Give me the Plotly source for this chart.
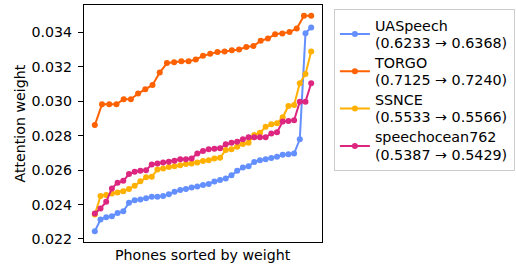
import numpy as np
import plotly.graph_objects as go

series_names = ["UASpeech", "TORGO", "SSNCE", "speechocean762"]
score_ranges = ["(0.6233 → 0.6368)", "(0.7125 → 0.7240)", "(0.5533 → 0.5566)", "(0.5387 → 0.5429)"]
colors = ["#648FFF", "#FE6100", "#FFB000", "#DC267F"]

uaspeech = [0.02245, 0.02313, 0.02326, 0.02332, 0.02351, 0.02361, 0.02410, 0.02425, 0.02430, 0.02437,
            0.02445, 0.02445, 0.02449, 0.02460, 0.02474, 0.02484, 0.02490, 0.02499, 0.02505, 0.02513,
            0.02520, 0.02534, 0.02542, 0.02552, 0.02571, 0.02596, 0.02616, 0.02623, 0.02647, 0.02658,
            0.02663, 0.02670, 0.02678, 0.02689, 0.02693, 0.02697, 0.02779, 0.03396, 0.03429]
torgo = [0.02862, 0.02983, 0.02983, 0.02983, 0.03012, 0.03012, 0.03045, 0.03070, 0.03095, 0.03167,
         0.03222, 0.03227, 0.03233, 0.03233, 0.03243, 0.03264, 0.03276, 0.03286, 0.03290, 0.03297,
         0.03301, 0.03315, 0.03321, 0.03352, 0.03365, 0.03390, 0.03394, 0.03402, 0.03423, 0.03497,
         0.03497]
ssnce = [0.02342, 0.02449, 0.02455, 0.02464, 0.02470, 0.02478, 0.02491, 0.02509, 0.02536, 0.02558,
         0.02561, 0.02604, 0.02610, 0.02618, 0.02622, 0.02628, 0.02635, 0.02639, 0.02645, 0.02653,
         0.02657, 0.02668, 0.02672, 0.02717, 0.02721, 0.02736, 0.02752, 0.02759, 0.02804, 0.02817,
         0.02852, 0.02866, 0.02872, 0.02907, 0.02973, 0.02979, 0.03105, 0.03159, 0.03289]
speechocean = [0.02348, 0.02377, 0.02416, 0.02494, 0.02526, 0.02538, 0.02577, 0.02590, 0.02596, 0.02600,
               0.02633, 0.02639, 0.02645, 0.02649, 0.02654, 0.02663, 0.02663, 0.02668, 0.02697, 0.02711,
               0.02721, 0.02724, 0.02727, 0.02750, 0.02759, 0.02765, 0.02779, 0.02791, 0.02791, 0.02791,
               0.02791, 0.02813, 0.02820, 0.02882, 0.02886, 0.02890, 0.02998, 0.02998, 0.03105]

y_ticks = [0.022, 0.024, 0.026, 0.028, 0.030, 0.032, 0.034]
x_label = "Phones sorted by weight"
y_label = "Attention weight"

FONT = "DejaVu Sans"
fig = go.Figure()
for sname, srange, color, vals in zip(series_names, score_ranges, colors,
                                      [uaspeech, torgo, ssnce, speechocean]):
    x = np.linspace(0, 1, len(vals))
    label = ('<span style="font-size:14.3px">' + sname + '</span><br>'
             '<span style="font-size:14.3px">' + srange + '</span>')
    fig.add_trace(go.Scatter(x=x, y=vals, mode="lines+markers", name=label,
                             line=dict(color=color, width=2),
                             marker=dict(color=color, size=6)))

fig.update_layout(
    width=516, height=264,
    margin=dict(l=84, r=194, t=5, b=22, autoexpand=False),
    paper_bgcolor="white", plot_bgcolor="white",
    font=dict(family=FONT, size=14.2, color="black"),
    showlegend=True,
    legend=dict(x=1.05, y=0.982, xanchor="left", yanchor="top",
                bgcolor="white", bordercolor="#cccccc", borderwidth=1,
                font=dict(family=FONT, size=13.2, color="black"),
                itemwidth=30, tracegroupgap=0),
    xaxis=dict(range=[-0.05, 1.05], showticklabels=False, ticks="", showgrid=False,
               zeroline=False, showline=True, linecolor="black", linewidth=1, mirror=True),
    yaxis=dict(range=[0.021824, 0.035596], tickvals=y_ticks, tickformat=".3f",
               ticks="outside", ticklen=5, tickcolor="black", showgrid=False, zeroline=False,
               showline=True, linecolor="black", linewidth=1, mirror=True,
               ticklabelstandoff=3),
    annotations=[
        dict(text=x_label, xref="paper", yref="paper", x=0.5, y=0, yshift=-13,
             xanchor="center", yanchor="middle", showarrow=False,
             font=dict(family=FONT, size=14.2)),
        dict(text=y_label, xref="paper", yref="paper", x=0, y=0.5, xshift=-65,
             xanchor="center", yanchor="middle", textangle=-90, showarrow=False,
             font=dict(family=FONT, size=14.2)),
    ],
)
fig.write_html("out.html", config={"displayModeBar": False},
               post_script="document.body.style.margin='0';")
